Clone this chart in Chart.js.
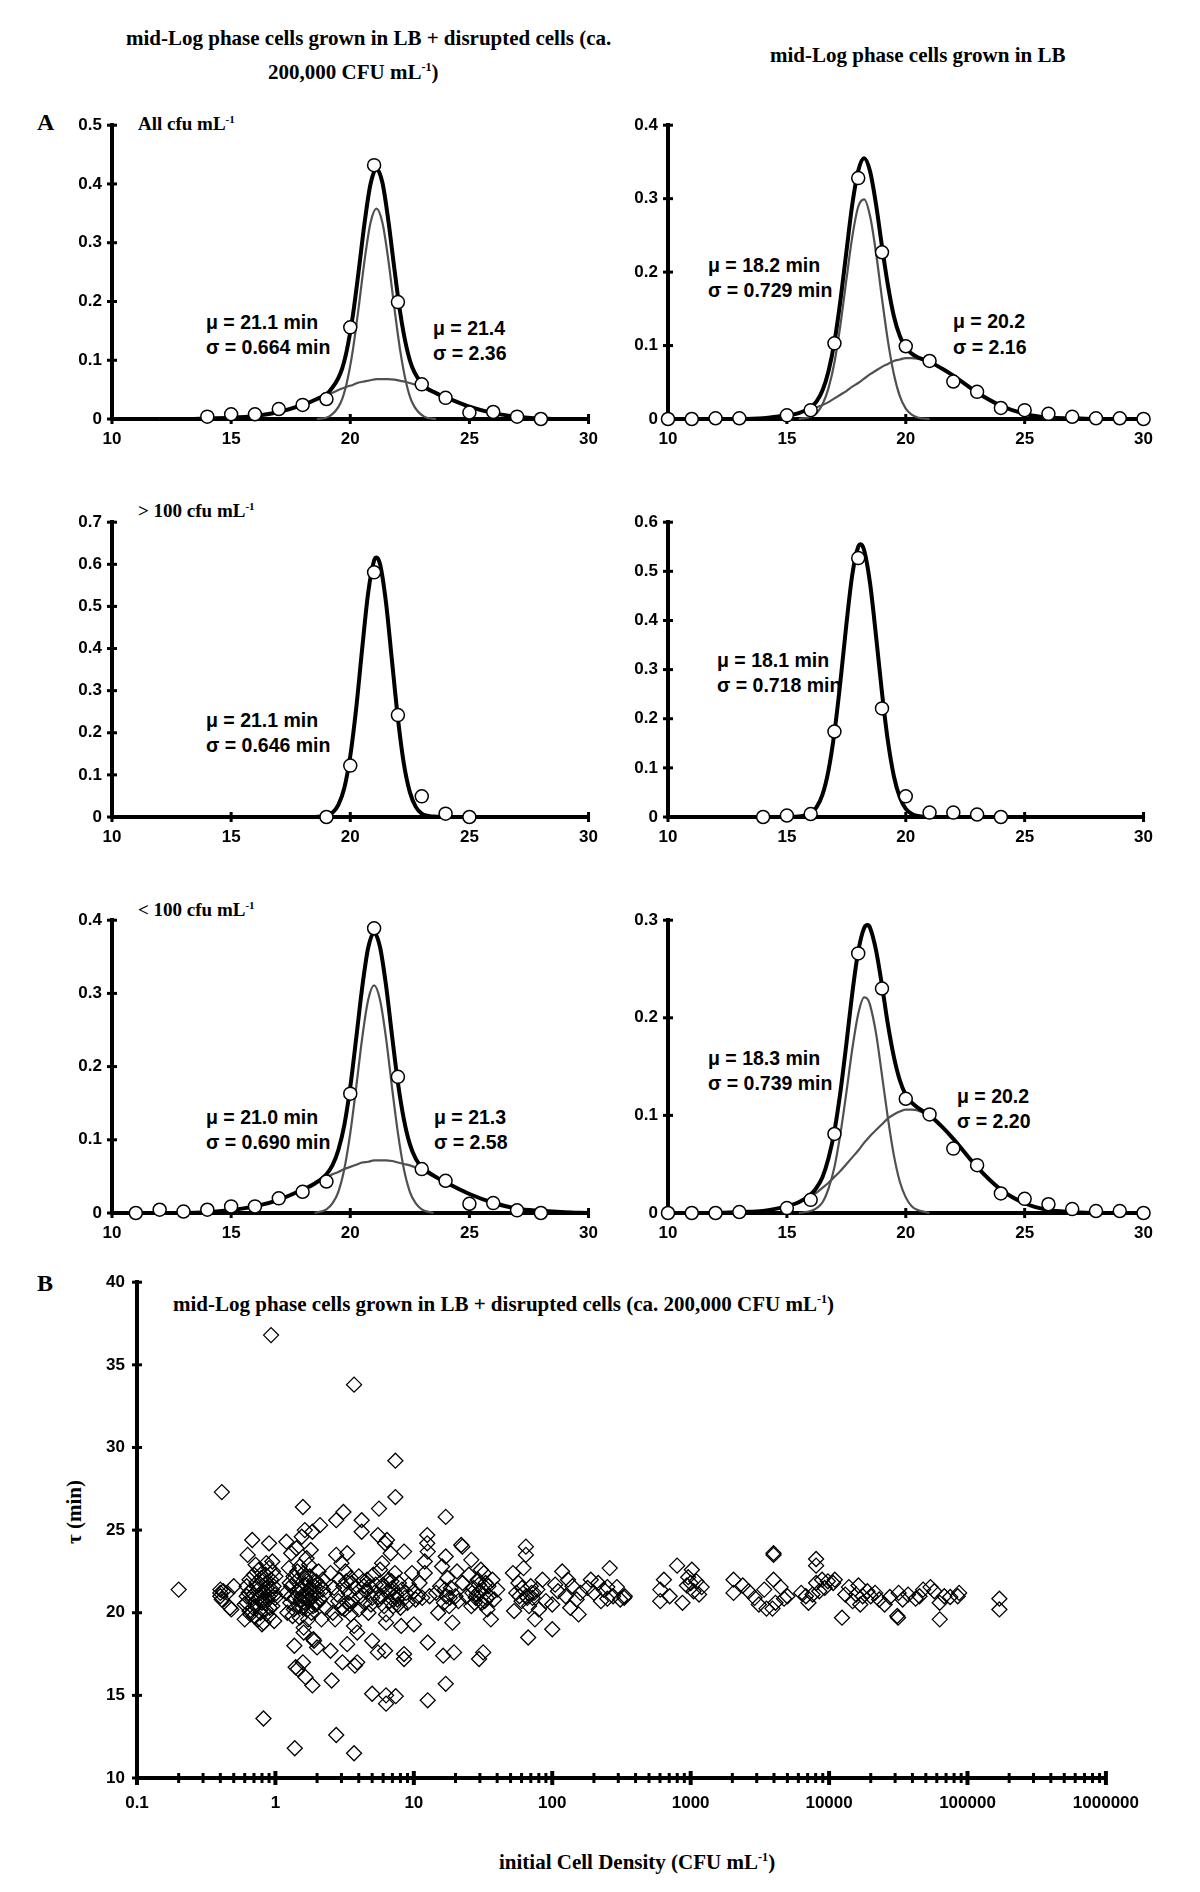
<!DOCTYPE html>
<html>
<head>
<meta charset="utf-8">
<script src="https://cdn.jsdelivr.net/npm/chart.js@4.4.1/dist/chart.umd.min.js"></script>
<style>
  body { margin: 0; background: #fff; }
  #page { position: relative; width: 1200px; height: 1892px; overflow: hidden; background: #fff; }
  canvas { position: absolute; }
  .t { position: absolute; white-space: nowrap; transform: translateY(-50%); color: #000; line-height: 1; }
  .serif { font-family: 'Liberation Serif', 'Times New Roman', serif; font-weight: bold; }
  .sans { font-family: 'Liberation Sans', Arial, sans-serif; font-weight: bold; font-size: 19.5px; }
  sup { font-size: 58%; vertical-align: 0.6em; line-height: 0; }
</style>
</head>
<body>
<div id="page">
  <!-- headings -->
  <div class="t serif" style="left:126px; top:38px; font-size:21px;">mid-Log phase cells grown in LB + disrupted cells (ca.</div>
  <div class="t serif" style="left:268px; top:72px; font-size:21px;">200,000 CFU mL<sup>-1</sup>)</div>
  <div class="t serif" style="left:770px; top:55px; font-size:21px;">mid-Log phase cells grown in LB</div>
  <div class="t serif" style="left:37px; top:122px; font-size:24px;">A</div>
  <div class="t serif" style="left:37px; top:1283px; font-size:24px;">B</div>

  <!-- panel labels -->
  <div class="t serif" style="left:138px; top:123px; font-size:19px;">All cfu mL<sup>-1</sup></div>
  <div class="t serif" style="left:138px; top:510px; font-size:19px;">&gt; 100 cfu mL<sup>-1</sup></div>
  <div class="t serif" style="left:138px; top:909px; font-size:19px;">&lt; 100 cfu mL<sup>-1</sup></div>

  <!-- fit annotations -->
  <div class="t sans" style="left:206px; top:323px;">μ = 21.1 min</div>
  <div class="t sans" style="left:206px; top:348px;">σ = 0.664 min</div>
  <div class="t sans" style="left:433px; top:329px;">μ = 21.4</div>
  <div class="t sans" style="left:433px; top:354px;">σ = 2.36</div>

  <div class="t sans" style="left:708px; top:266px;">μ = 18.2 min</div>
  <div class="t sans" style="left:708px; top:291px;">σ = 0.729 min</div>
  <div class="t sans" style="left:953px; top:322px;">μ = 20.2</div>
  <div class="t sans" style="left:953px; top:348px;">σ = 2.16</div>

  <div class="t sans" style="left:206px; top:721px;">μ = 21.1 min</div>
  <div class="t sans" style="left:206px; top:746px;">σ = 0.646 min</div>

  <div class="t sans" style="left:717px; top:661px;">μ = 18.1 min</div>
  <div class="t sans" style="left:717px; top:686px;">σ = 0.718 min</div>

  <div class="t sans" style="left:206px; top:1118px;">μ = 21.0 min</div>
  <div class="t sans" style="left:206px; top:1143px;">σ = 0.690 min</div>
  <div class="t sans" style="left:434px; top:1118px;">μ = 21.3</div>
  <div class="t sans" style="left:434px; top:1143px;">σ = 2.58</div>

  <div class="t sans" style="left:708px; top:1059px;">μ = 18.3 min</div>
  <div class="t sans" style="left:708px; top:1084px;">σ = 0.739 min</div>
  <div class="t sans" style="left:957px; top:1097px;">μ = 20.2</div>
  <div class="t sans" style="left:957px; top:1122px;">σ = 2.20</div>

  <!-- panel B titles -->
  <div class="t serif" style="left:173px; top:1304px; font-size:21px;">mid-Log phase cells grown in LB + disrupted cells (ca. 200,000 CFU mL<sup>-1</sup>)</div>
  <div class="t serif" style="left:499px; top:1862px; font-size:21px;">initial Cell Density (CFU mL<sup>-1</sup>)</div>
  <div class="t serif" style="left:74px; top:1512px; font-size:21px; transform:translate(-50%,-50%) rotate(-90deg);">τ (min)</div>
</div>

<script>
// ---- panel A: all cfu, cells + disrupted cells ----
const tlObsX = [14, 15, 16, 17, 18, 19, 20, 21, 22, 23, 24, 25, 26, 27, 28];
const tlObsY = [0.004, 0.008, 0.008, 0.017, 0.024, 0.034, 0.156, 0.432, 0.199, 0.059, 0.036, 0.011, 0.012, 0.004, 0.0];
const tlCurveX = [12, 13, 14, 15, 16, 17, 18, 18.6, 19.1, 19.6, 19.85, 20.1, 20.35, 20.6, 20.85, 21.1, 21.35, 21.6, 21.85, 22.1, 22.35, 22.6, 23.1, 23.6, 24, 25, 26, 27, 28, 29, 30];
const tlTotal = [0, 0, 0.001, 0.002, 0.005, 0.012, 0.024, 0.034, 0.046, 0.079, 0.116, 0.174, 0.251, 0.334, 0.400, 0.426, 0.402, 0.337, 0.256, 0.180, 0.124, 0.088, 0.056, 0.044, 0.037, 0.021, 0.010, 0.004, 0.001, 0, 0];
const tlNarrow = [null, null, null, null, null, null, null, 0, 0.004, 0.028, 0.061, 0.115, 0.189, 0.270, 0.334, 0.358, 0.334, 0.270, 0.189, 0.115, 0.061, 0.028, 0.004, 0, null, null, null, null, null, null, null];
const tlWide = [0, 0, 0.001, 0.002, 0.005, 0.012, 0.024, 0.034, 0.042, 0.051, 0.055, 0.058, 0.062, 0.064, 0.066, 0.068, 0.068, 0.068, 0.067, 0.065, 0.063, 0.060, 0.053, 0.044, 0.037, 0.021, 0.010, 0.004, 0.001, 0, 0];

// ---- all cfu, cells in LB ----
const trObsX = [10, 11, 12, 13, 15, 16, 17, 18, 19, 20, 21, 22, 23, 24, 25, 26, 27, 28, 29, 30];
const trObsY = [0, 0, 0.001, 0.001, 0.005, 0.012, 0.103, 0.328, 0.227, 0.099, 0.079, 0.051, 0.037, 0.015, 0.012, 0.007, 0.003, 0.001, 0.001, 0];
const trCurveX = [12, 13, 14, 15, 15.5, 16, 16.25, 16.5, 16.75, 17, 17.25, 17.5, 17.75, 18, 18.25, 18.5, 18.75, 19, 19.25, 19.5, 19.75, 20, 20.25, 20.5, 21, 21.5, 22, 23, 24, 25, 26, 27, 28, 29, 30];
const trTotal = [0, 0, 0.001, 0.005, 0.008, 0.016, 0.024, 0.039, 0.065, 0.105, 0.161, 0.227, 0.292, 0.338, 0.355, 0.337, 0.292, 0.235, 0.182, 0.140, 0.113, 0.097, 0.089, 0.084, 0.078, 0.069, 0.059, 0.036, 0.018, 0.007, 0.002, 0.001, 0, 0, 0];
const trNarrow = [null, null, null, null, 0, 0.003, 0.008, 0.020, 0.042, 0.077, 0.128, 0.189, 0.248, 0.289, 0.299, 0.276, 0.226, 0.164, 0.106, 0.061, 0.031, 0.014, 0.006, 0.002, 0, null, null, null, null, null, null, null, null, null, null];
const trWide = [0, 0, 0.001, 0.005, 0.008, 0.013, 0.016, 0.019, 0.023, 0.028, 0.033, 0.038, 0.044, 0.049, 0.055, 0.061, 0.066, 0.071, 0.075, 0.079, 0.081, 0.083, 0.083, 0.082, 0.078, 0.069, 0.059, 0.036, 0.018, 0.007, 0.002, 0.001, 0, 0, 0];

// ---- > 100 cfu ----
const mlObsX = [19, 20, 21, 22, 23, 24, 25];
const mlObsY = [0, 0.122, 0.581, 0.242, 0.049, 0.008, 0];
const mlCurveX = [18.5, 19, 19.25, 19.5, 19.75, 20, 20.25, 20.5, 20.75, 21, 21.1, 21.25, 21.5, 21.75, 22, 22.25, 22.5, 22.75, 23, 23.5, 24];
const mlTotal = [0, 0.003, 0.010, 0.029, 0.069, 0.145, 0.259, 0.400, 0.532, 0.609, 0.616, 0.600, 0.509, 0.371, 0.234, 0.126, 0.059, 0.024, 0.008, 0.001, 0];

const mrObsX = [14, 15, 16, 17, 18, 19, 20, 21, 22, 23, 24];
const mrObsY = [0, 0.003, 0.006, 0.174, 0.527, 0.221, 0.042, 0.009, 0.009, 0.005, 0];
const mrCurveX = [15, 15.5, 16, 16.25, 16.5, 16.75, 17, 17.25, 17.5, 17.75, 18, 18.1, 18.25, 18.5, 18.75, 19, 19.25, 19.5, 19.75, 20, 20.5, 21];
const mrTotal = [0, 0.001, 0.008, 0.020, 0.046, 0.095, 0.172, 0.275, 0.391, 0.493, 0.550, 0.555, 0.543, 0.475, 0.368, 0.253, 0.154, 0.083, 0.040, 0.017, 0.002, 0];

// ---- < 100 cfu ----
const blObsX = [11, 12, 13, 14, 15, 16, 17, 18, 19, 20, 21, 22, 23, 24, 25, 26, 27, 28];
const blObsY = [0, 0.0045, 0.002, 0.0045, 0.009, 0.009, 0.020, 0.029, 0.043, 0.163, 0.389, 0.186, 0.060, 0.044, 0.0126, 0.0135, 0.0036, 0];
const blCurveX = [11, 12, 13, 14, 15, 16, 17, 18, 18.5, 19, 19.25, 19.5, 19.75, 20, 20.25, 20.5, 20.75, 21, 21.25, 21.5, 21.75, 22, 22.25, 22.5, 22.75, 23, 23.5, 24, 25, 26, 27, 28, 29, 30];
const blTotal = [0, 0, 0, 0.001, 0.004, 0.009, 0.018, 0.032, 0.040, 0.053, 0.065, 0.086, 0.120, 0.172, 0.239, 0.308, 0.362, 0.383, 0.363, 0.311, 0.243, 0.178, 0.128, 0.094, 0.074, 0.063, 0.051, 0.042, 0.026, 0.014, 0.006, 0.003, 0.001, 0];
const blNarrow = [null, null, null, null, null, null, null, null, 0, 0.005, 0.013, 0.029, 0.060, 0.109, 0.172, 0.239, 0.291, 0.311, 0.291, 0.239, 0.172, 0.109, 0.060, 0.029, 0.013, 0.005, 0, null, null, null, null, null, null, null];
const blWide = [0, 0, 0, 0.001, 0.004, 0.009, 0.018, 0.032, 0.040, 0.048, 0.053, 0.056, 0.060, 0.063, 0.066, 0.069, 0.070, 0.072, 0.072, 0.072, 0.071, 0.069, 0.067, 0.065, 0.062, 0.058, 0.050, 0.042, 0.026, 0.014, 0.006, 0.003, 0.001, 0];

const brObsX = [10, 11, 12, 13, 15, 16, 17, 18, 19, 20, 21, 22, 23, 24, 25, 26, 27, 28, 29, 30];
const brObsY = [0, 0, 0, 0.001, 0.005, 0.0135, 0.081, 0.266, 0.230, 0.117, 0.101, 0.066, 0.049, 0.020, 0.0145, 0.009, 0.004, 0.002, 0.002, 0];
const brCurveX = [12, 13, 14, 15, 15.5, 16, 16.25, 16.5, 16.75, 17, 17.25, 17.5, 17.75, 18, 18.25, 18.4, 18.5, 18.75, 19, 19.25, 19.5, 19.75, 20, 20.25, 20.5, 21, 21.5, 22, 23, 24, 25, 26, 27, 28, 29, 30];
const brTotal = [0, 0.001, 0.002, 0.007, 0.011, 0.019, 0.026, 0.037, 0.056, 0.084, 0.124, 0.173, 0.225, 0.268, 0.292, 0.295, 0.292, 0.269, 0.233, 0.193, 0.160, 0.136, 0.121, 0.113, 0.108, 0.100, 0.089, 0.076, 0.047, 0.024, 0.010, 0.003, 0.001, 0, 0, 0];
const brNarrow = [null, null, null, null, 0, 0.002, 0.005, 0.011, 0.025, 0.047, 0.081, 0.123, 0.168, 0.204, 0.221, 0.219, 0.213, 0.184, 0.141, 0.097, 0.059, 0.032, 0.016, 0.007, 0.003, 0, null, null, null, null, null, null, null, null, null, null];
const brWide = [0, 0.001, 0.002, 0.007, 0.011, 0.017, 0.021, 0.026, 0.031, 0.037, 0.043, 0.050, 0.057, 0.064, 0.072, 0.076, 0.079, 0.085, 0.091, 0.097, 0.101, 0.104, 0.106, 0.106, 0.105, 0.099, 0.089, 0.076, 0.047, 0.024, 0.010, 0.003, 0.001, 0, 0, 0];

// ---- panel B: [initial CFU/mL, tau (min)] ----
const tauPoints = [
  [0.2, 21.4],
  [0.4, 21.4], [0.4, 21.2], [0.4, 21.0], [0.41, 20.8], [0.42, 21.3], [0.47, 20.3], [0.48, 20.2], [0.5, 21.6], [0.45, 21.2], [0.41, 27.3],
  [0.6, 19.6], [0.6, 20.5], [0.62, 21.0], [0.62, 21.6], [0.63, 23.5], [0.65, 20.1], [0.65, 22.0], [0.66, 21.3], [0.68, 24.4], [0.68, 20.8],
  [0.7, 19.8], [0.7, 21.1], [0.7, 22.3], [0.72, 20.4], [0.73, 21.8], [0.75, 19.6], [0.75, 21.4], [0.76, 22.6], [0.78, 20.0], [0.78, 21.0],
  [0.8, 19.3], [0.8, 20.6], [0.8, 21.9], [0.82, 19.4], [0.82, 13.6], [0.83, 21.2], [0.85, 20.2], [0.85, 22.3], [0.87, 21.5], [0.88, 20.8],
  [0.9, 19.8], [0.9, 22.7], [0.9, 24.2], [0.92, 21.1], [0.93, 36.8], [0.93, 22.0], [0.95, 20.4], [0.95, 23.1], [0.97, 21.6], [0.98, 19.5],
  [1.0, 20.9], [1.0, 22.2], [0.72, 22.9], [0.66, 19.9], [0.86, 23.0], [0.62, 20.6],
  [0.64, 21.2], [0.69, 20.3], [0.74, 21.6], [0.77, 20.9], [0.79, 22.1], [0.81, 21.3], [0.84, 20.6], [0.86, 21.8], [0.89, 21.0], [0.91, 20.3],
  [0.94, 21.4], [0.96, 22.5], [0.99, 21.1],
  [1.2, 24.3], [1.2, 21.2], [1.22, 20.0], [1.25, 22.7], [1.28, 20.6], [1.3, 23.6], [1.3, 21.6], [1.33, 19.8], [1.35, 22.2], [1.37, 18.0],
  [1.38, 11.8], [1.38, 20.9], [1.4, 16.7], [1.42, 23.9], [1.45, 21.3], [1.45, 16.6], [1.48, 20.4], [1.5, 22.8], [1.5, 19.7], [1.55, 21.0],
  [1.55, 24.6], [1.58, 17.0], [1.58, 26.4], [1.6, 19.1], [1.6, 18.8], [1.6, 22.4], [1.62, 20.6], [1.63, 25.0], [1.65, 16.1], [1.65, 21.7],
  [1.68, 23.3], [1.7, 20.2], [1.7, 21.2], [1.72, 19.6], [1.75, 22.9], [1.78, 20.8], [1.8, 23.8], [1.8, 21.5], [1.82, 20.0], [1.85, 24.9],
  [1.85, 15.6], [1.88, 18.4], [1.9, 18.3], [1.9, 21.9], [1.95, 20.5], [2.0, 17.9], [2.0, 21.2], [2.05, 22.5], [2.1, 25.3], [2.1, 20.8],
  [2.15, 19.6], [2.2, 21.4], [2.2, 22.0], [2.3, 20.3], [1.52, 20.8], [1.66, 21.0], [1.75, 21.4], [1.92, 21.6], [1.42, 21.9], [1.3, 21.0],
  [1.27, 21.8], [1.36, 20.2], [1.44, 22.5], [1.53, 21.5], [1.57, 20.3], [1.64, 22.1], [1.69, 21.9], [1.73, 20.7], [1.77, 22.2], [1.83, 21.0],
  [1.87, 20.4], [1.97, 21.9], [2.02, 20.6], [2.12, 21.6], [2.25, 21.1],
  [2.5, 22.4], [2.5, 17.7], [2.55, 15.9], [2.6, 20.0], [2.7, 19.6], [2.75, 12.6], [2.75, 25.6], [2.75, 23.5], [2.8, 21.1], [2.9, 22.0],
  [3.0, 20.3], [3.0, 23.0], [3.05, 17.0], [3.1, 26.1], [3.1, 21.6], [3.15, 20.2], [3.2, 22.5], [3.3, 18.1], [3.3, 23.6], [3.3, 20.6],
  [3.4, 21.2], [3.5, 19.9], [3.5, 22.1], [3.6, 20.8], [3.7, 33.8], [3.7, 11.5], [3.7, 19.2], [3.75, 16.8], [3.8, 21.5], [3.9, 17.0],
  [3.9, 18.8], [4.0, 20.2], [4.0, 22.2], [4.1, 21.0], [2.65, 21.5], [3.55, 21.8], [2.85, 20.7], [3.25, 21.9], [3.45, 20.5],
  [4.2, 25.6], [4.2, 24.9], [4.3, 21.9], [4.4, 20.6], [4.5, 21.3], [4.6, 22.0], [4.7, 20.0], [4.8, 21.6], [5.0, 15.1], [5.0, 18.3],
  [5.0, 20.9], [5.1, 22.3], [5.2, 21.2], [4.35, 21.6], [4.9, 20.5], [5.3, 21.7],
  [5.5, 24.7], [5.5, 17.6], [5.6, 26.3], [5.7, 22.6], [5.8, 21.0], [5.9, 23.0], [6.0, 21.7], [6.1, 20.4], [6.2, 17.7], [6.2, 24.2],
  [6.3, 19.4], [6.3, 19.9], [6.3, 15.0], [6.3, 14.5], [6.4, 24.4], [6.5, 21.3], [6.6, 22.0], [6.7, 20.7], [6.8, 23.6], [7.0, 21.5],
  [7.1, 20.4], [7.3, 22.4], [7.36, 29.2], [7.36, 27.0], [7.4, 14.95], [7.5, 21.1], [7.6, 20.8], [7.8, 21.8], [8.0, 20.3], [8.1, 19.2],
  [8.2, 21.4], [8.5, 23.7], [8.5, 17.5], [8.5, 17.2], [8.6, 20.9], [8.8, 21.2], [9.0, 20.6], [9.2, 21.7], [6.9, 21.9], [7.7, 20.5],
  [5.6, 20.8], [6.1, 21.6], [7.2, 21.0],
  [9.7, 22.4], [10.0, 19.3], [10.0, 21.3], [10.3, 20.8], [10.7, 21.0], [11.0, 21.8], [11.5, 20.9], [12.0, 22.4], [12.5, 24.7], [12.5, 24.2],
  [12.6, 23.7], [12.6, 18.2], [12.6, 14.7], [13.0, 21.0], [12.0, 23.1],
  [14.5, 21.2], [15.0, 20.0], [15.5, 21.6], [16.0, 22.8], [16.3, 17.4], [16.5, 20.6], [17.0, 25.8], [17.0, 23.4], [17.0, 15.7], [17.2, 21.0],
  [17.5, 22.1], [18.0, 20.4], [18.5, 21.5], [19.0, 19.4], [19.5, 17.6], [20.0, 21.0], [20.5, 22.5], [21.0, 20.7], [22.0, 24.1], [22.4, 24.0],
  [22.5, 21.8], [16.8, 21.4], [18.2, 20.9],
  [24, 21.0], [25, 22.3], [26, 23.2], [26, 20.4], [27, 21.5], [28, 20.9], [29, 22.0], [29.6, 17.2], [30, 21.3], [31, 20.6],
  [31.7, 17.6], [32, 22.4], [33, 21.8], [34, 20.2], [35, 21.0], [36, 19.6], [37, 22.0], [38, 20.8], [40, 21.4], [28.5, 21.1],
  [33.5, 20.9], [30.5, 22.6], [26.5, 21.2], [27.5, 20.6], [29.5, 21.7], [31.5, 21.4], [32.5, 20.7], [34.5, 21.6],
  [52, 22.4], [53, 20.1], [55, 21.2], [57, 21.8], [60, 20.7], [62, 22.7], [64.5, 24.0], [64.5, 23.5], [65, 21.0], [67, 18.5],
  [68, 20.4], [70, 21.6], [72, 20.9], [75, 19.6], [78, 21.4], [80, 20.2], [85, 22.0], [90, 20.7], [58, 21.0], [74, 21.2],
  [60.5, 21.5], [66, 20.9], [71, 21.2],
  [100, 19.0], [100, 20.5], [105, 21.7], [110, 21.3], [118, 22.5], [125, 21.0], [130, 22.0], [135, 20.3], [140, 21.6], [150, 20.8],
  [155, 19.9], [160, 21.2],
  [180, 21.5], [190, 22.0], [200, 21.2], [215, 21.8], [225, 20.7], [235, 21.4], [250, 21.55], [250, 20.85], [260, 22.7], [275, 21.0],
  [293, 21.55], [310, 20.8], [331, 20.9], [334, 21.0],
  [603, 21.4], [603, 20.7], [641, 22.0], [705, 21.0], [798, 22.85], [873, 20.6], [940, 21.65], [960, 22.15], [1000, 21.8], [1020, 22.6],
  [1050, 21.3], [1100, 21.9], [1150, 21.1], [1200, 21.55],
  [2040, 22.0], [2040, 21.2], [2380, 21.65], [2620, 21.3], [2900, 20.9], [3110, 20.5], [3400, 21.4], [3530, 20.25], [3900, 20.25], [3970, 23.6],
  [3970, 23.5], [3970, 22.0], [4100, 20.6], [4460, 21.55], [4730, 20.85], [5000, 21.0],
  [6290, 21.2], [6800, 21.0], [7100, 20.6], [7600, 21.1], [8060, 23.25], [8060, 22.85], [8060, 21.8], [8500, 21.3], [8900, 22.0], [9800, 21.9],
  [10700, 21.8], [11000, 22.0], [9300, 21.5],
  [12400, 19.7], [13100, 21.1], [13900, 21.55], [14800, 20.7], [15700, 21.1], [16300, 21.65], [16800, 20.5], [17500, 21.0], [18900, 21.3], [20000, 21.0],
  [21500, 21.2], [23000, 20.8], [25200, 20.5], [27500, 20.95],
  [31100, 19.8], [31500, 19.7], [31800, 21.2], [34000, 20.8], [37200, 21.1], [42200, 20.85], [45000, 21.0], [47800, 21.4], [54000, 21.55], [57600, 21.3],
  [63000, 20.6], [63000, 19.6], [68000, 21.0], [75000, 20.95], [87000, 21.2], [85000, 21.0],
  [170000, 20.85], [170000, 20.2]
];
const decadeValues = [0.1, 1, 10, 100, 1000, 10000, 100000, 1000000];
const decadeLabels = ['0.1', '1', '10', '100', '1000', '10000', '100000', '1000000'];

// ---------- drawing ----------
const tickFont = { family: "'Liberation Sans', Arial, sans-serif", weight: 'bold', size: 17 };
const page = document.getElementById('page');

function addCanvas(left, top, width, height) {
  const c = document.createElement('canvas');
  c.width = width;
  c.height = height;
  c.style.left = left + 'px';
  c.style.top = top + 'px';
  c.style.width = width + 'px';
  c.style.height = height + 'px';
  page.appendChild(c);
  return c;
}

const toPoints = (xs, ys) => xs.map((x, i) => ({ x: x, y: ys[i] }));

// tick marks that cross the axis line, like the original figure
const crossTicks = {
  id: 'crossTicks',
  beforeDatasetsDraw(chart, args, opts) {
    const { ctx, chartArea } = chart;
    const xs = chart.scales.x;
    const ys = chart.scales.y;
    ctx.save();
    ctx.strokeStyle = '#000';
    xs.ticks.forEach(t => {
      const px = xs.getPixelForValue(t.value);
      const len = t.major ? opts.majorLen : opts.len;
      ctx.lineWidth = t.major ? opts.majorWidth : opts.width;
      ctx.beginPath();
      ctx.moveTo(px, chartArea.bottom - len);
      ctx.lineTo(px, chartArea.bottom + len);
      ctx.stroke();
    });
    ctx.lineWidth = opts.width;
    ys.ticks.forEach(t => {
      const py = ys.getPixelForValue(t.value);
      ctx.beginPath();
      ctx.moveTo(chartArea.left - opts.len, py);
      ctx.lineTo(chartArea.left + opts.len, py);
      ctx.stroke();
    });
    ctx.restore();
  }
};

const PAD = { left: 70, top: 16, right: 16, bottom: 40 };

function drawPanel(box, yMax, obsX, obsY, curveX, totalY, narrowY, wideY) {
  const w = box.right - box.left + PAD.left + PAD.right;
  const h = box.bottom - box.top + PAD.top + PAD.bottom;
  const canvas = addCanvas(box.left - PAD.left, box.top - PAD.top, w, h);

  const datasets = [
    {
      data: toPoints(obsX, obsY),
      showLine: false,
      pointRadius: 6.5,
      pointBackgroundColor: '#fff',
      pointBorderColor: '#000',
      pointBorderWidth: 1.5,
      order: 0,
      clip: false
    },
    {
      data: toPoints(curveX, totalY),
      borderColor: '#000',
      borderWidth: 4,
      pointRadius: 0,
      cubicInterpolationMode: 'monotone',
      order: 1,
      clip: false
    }
  ];
  [narrowY, wideY].forEach(ys => {
    if (!ys) return;
    datasets.push({
      data: toPoints(curveX, ys),
      borderColor: '#505050',
      borderWidth: 2.2,
      pointRadius: 0,
      cubicInterpolationMode: 'monotone',
      spanGaps: false,
      order: 2,
      clip: false
    });
  });

  new Chart(canvas, {
    type: 'line',
    data: { datasets: datasets },
    options: {
      responsive: false,
      animation: false,
      events: [],
      layout: { padding: { top: PAD.top, right: PAD.right, left: 0, bottom: 0 } },
      plugins: {
        legend: { display: false },
        tooltip: { enabled: false },
        crossTicks: { len: 5, width: 3, majorLen: 5, majorWidth: 3 }
      },
      scales: {
        x: {
          type: 'linear', min: 10, max: 30,
          ticks: { stepSize: 5, color: '#000', font: tickFont, padding: 10, maxRotation: 0 },
          grid: { display: false, drawTicks: false },
          border: { display: true, color: '#000', width: 4 },
          afterFit: s => { s.height = PAD.bottom; }
        },
        y: {
          type: 'linear', min: 0, max: yMax,
          ticks: { stepSize: 0.1, color: '#000', font: tickFont, padding: 10 },
          grid: { display: false, drawTicks: false },
          border: { display: true, color: '#000', width: 4 },
          afterFit: s => { s.width = PAD.left; }
        }
      }
    },
    plugins: [crossTicks]
  });
}

const colL = { left: 112, right: 592 };
const colR = { left: 668, right: 1147 };
const row1 = { top: 121, bottom: 419 };
const row2 = { top: 518, bottom: 817 };
const row3 = { top: 916, bottom: 1213 };

drawPanel({ ...colL, ...row1 }, 0.5, tlObsX, tlObsY, tlCurveX, tlTotal, tlNarrow, tlWide);
drawPanel({ ...colR, ...row1 }, 0.4, trObsX, trObsY, trCurveX, trTotal, trNarrow, trWide);
drawPanel({ ...colL, ...row2 }, 0.7, mlObsX, mlObsY, mlCurveX, mlTotal, null, null);
drawPanel({ ...colR, ...row2 }, 0.6, mrObsX, mrObsY, mrCurveX, mrTotal, null, null);
drawPanel({ ...colL, ...row3 }, 0.4, blObsX, blObsY, blCurveX, blTotal, blNarrow, blWide);
drawPanel({ ...colR, ...row3 }, 0.3, brObsX, brObsY, brCurveX, brTotal, brNarrow, brWide);

// ---------- panel B scatter ----------
const SPAD = { left: 90, top: 15, right: 30, bottom: 50 };
const sBox = { left: 137, top: 1275, right: 1124, bottom: 1778 };
const sCanvas = addCanvas(sBox.left - SPAD.left, sBox.top - SPAD.top,
  sBox.right - sBox.left + SPAD.left + SPAD.right,
  sBox.bottom - sBox.top + SPAD.top + SPAD.bottom);

new Chart(sCanvas, {
  type: 'scatter',
  data: {
    datasets: [{
      data: tauPoints.map(p => ({ x: p[0], y: p[1] })),
      pointStyle: 'rectRot',
      pointRadius: 7.5,
      pointHoverRadius: 7.5,
      borderColor: '#000',
      borderWidth: 1.3,
      backgroundColor: 'rgba(255,255,255,0)'
    }]
  },
  options: {
    responsive: false,
    animation: false,
    events: [],
    layout: { padding: { top: SPAD.top, right: SPAD.right, left: 0, bottom: 0 } },
    plugins: {
      legend: { display: false },
      tooltip: { enabled: false },
      crossTicks: { len: 5, width: 3, majorLen: 7, majorWidth: 4 }
    },
    scales: {
      x: {
        type: 'logarithmic', min: 0.1, max: 1000000,
        afterBuildTicks: scale => {
          const ticks = [];
          decadeValues.forEach((d, i) => {
            ticks.push({ value: d, major: true, name: decadeLabels[i] });
            if (i < decadeValues.length - 1) {
              for (let m = 2; m <= 9; m++) ticks.push({ value: d * m, major: false, name: '' });
            }
          });
          scale.ticks = ticks;
        },
        ticks: {
          autoSkip: false, maxRotation: 0, color: '#000', font: tickFont, padding: 15,
          callback: (value, index, ticks) => ticks[index].name
        },
        grid: { display: false, drawTicks: false },
        border: { display: true, color: '#000', width: 4 },
        afterFit: s => { s.height = SPAD.bottom; }
      },
      y: {
        type: 'linear', min: 10, max: 40,
        ticks: { stepSize: 5, color: '#000', font: tickFont, padding: 12 },
        grid: { display: false, drawTicks: false },
        border: { display: true, color: '#000', width: 4 },
        afterFit: s => { s.width = SPAD.left; }
      }
    }
  },
  plugins: [crossTicks]
});
</script>
</body>
</html>
